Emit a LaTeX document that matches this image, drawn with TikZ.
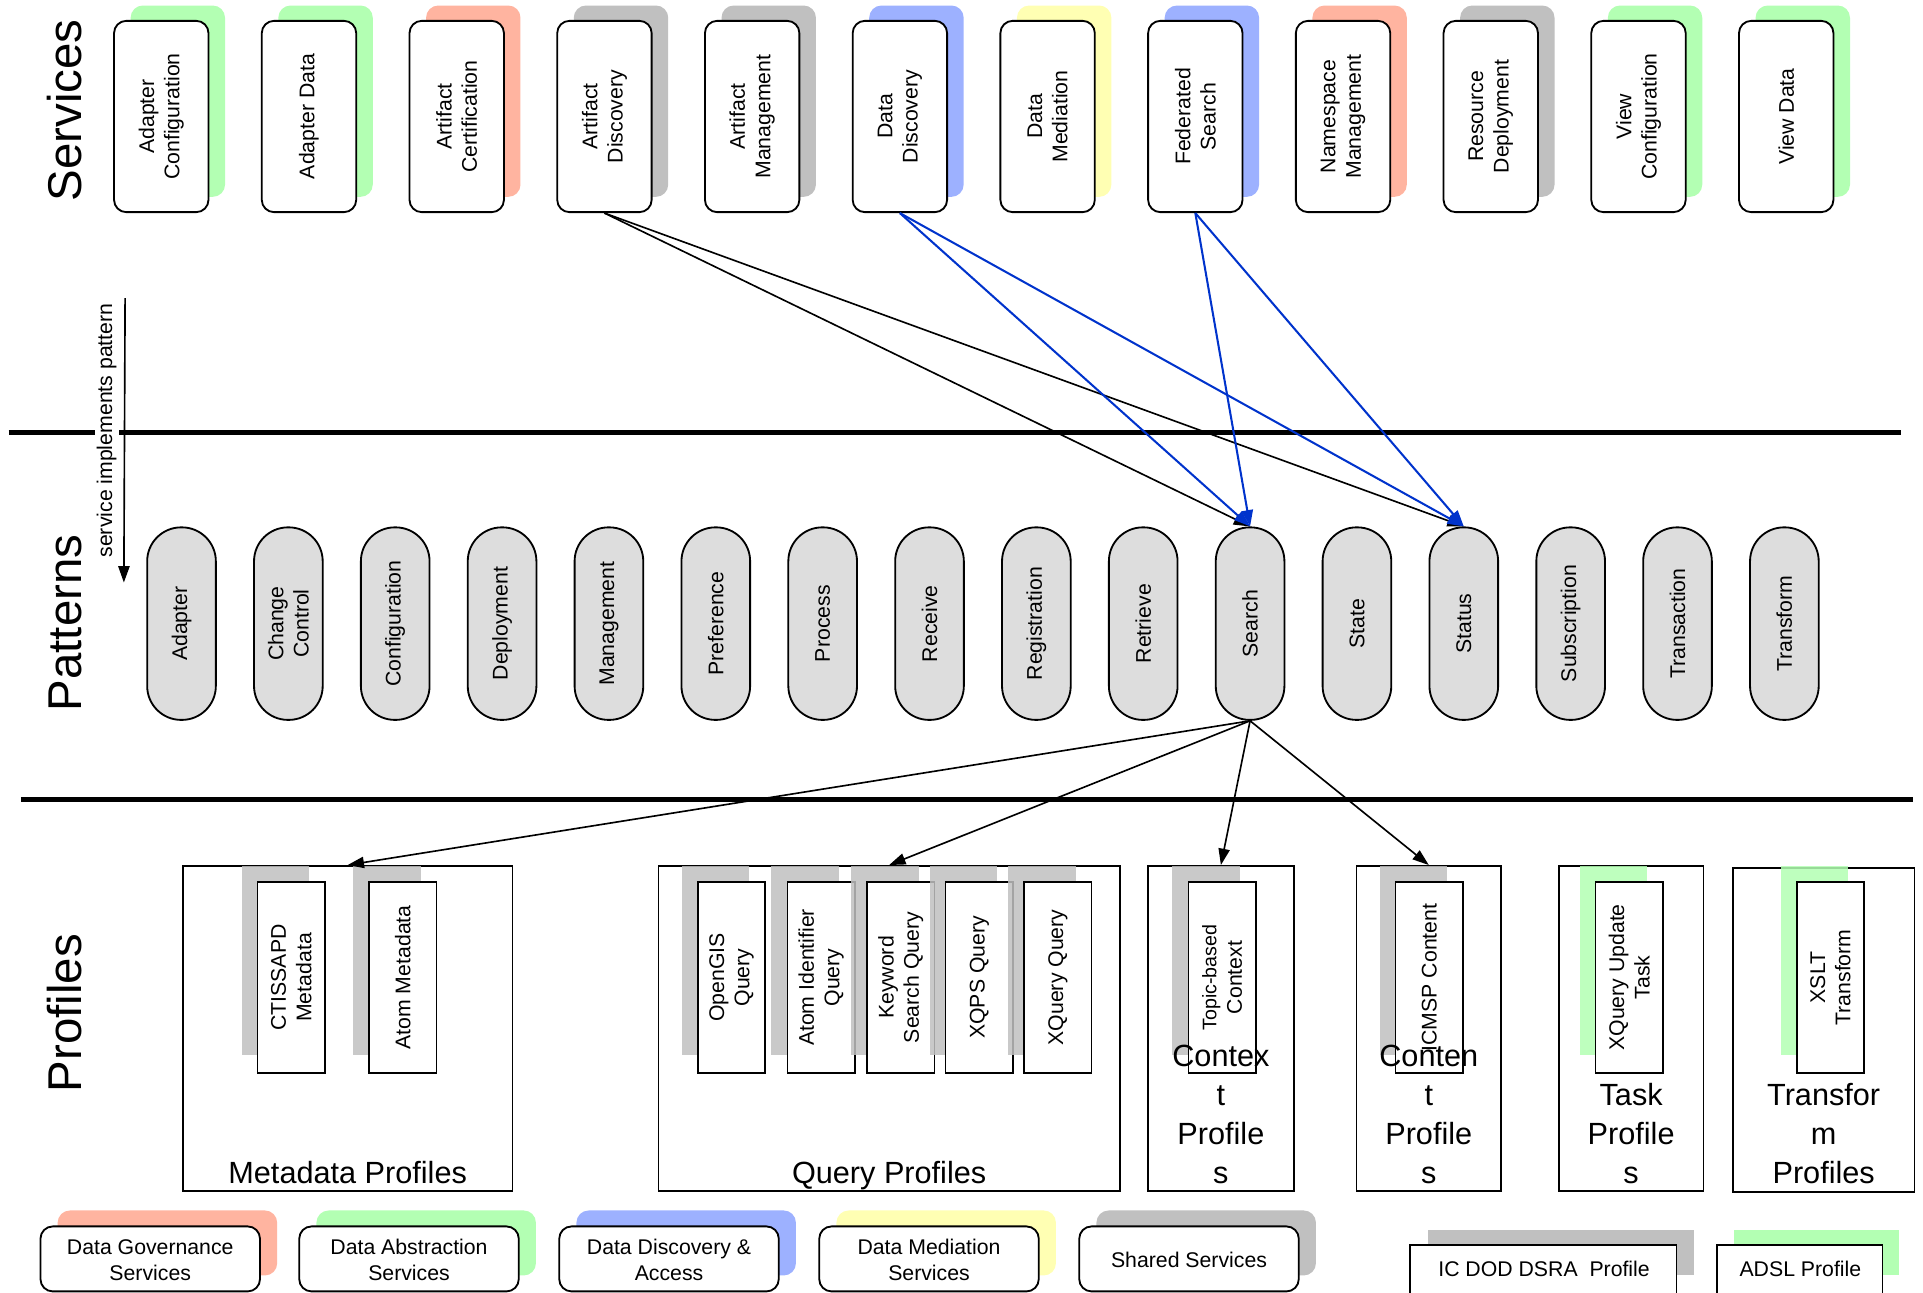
\documentclass[tikz,border=0pt]{standalone}
\usepackage{fontspec}
\setmainfont{Liberation Sans}
\usetikzlibrary{arrows.meta}
\definecolor{sgreen}{HTML}{B3FFB3}
\definecolor{ssalmon}{HTML}{FFB4A0}
\definecolor{sgray}{HTML}{C0C0C0}
\definecolor{sblue}{HTML}{9DB1FF}
\definecolor{syellow}{HTML}{FFFFB3}
\definecolor{pillgray}{HTML}{DDDDDD}
\definecolor{arrowblue}{HTML}{0033CC}
\begin{document}
\begin{tikzpicture}[x=0.6pt,y=-0.6pt,
  svc/.style={draw, line width=0.9pt, fill=white, rounded corners=6pt, minimum width=46.2pt, minimum height=93.6pt, inner sep=0pt},
  svcsh/.style={fill=#1, rounded corners=6pt, minimum width=46.2pt, minimum height=93.6pt, inner sep=0pt},
  txt/.style={font=\fontsize{10.4}{12.4}\selectfont, align=center, rotate=90, inner sep=0pt},
  pill/.style={draw, line width=0.9pt, fill=pillgray, rounded corners=16.6pt, minimum width=33.6pt, minimum height=94.2pt, inner sep=0pt},
  inbox/.style={draw, line width=0.8pt, fill=white, minimum width=33pt, minimum height=93.6pt, inner sep=0pt},
  insh/.style={fill=#1, fill opacity=0.85, minimum width=33pt, minimum height=92.4pt, inner sep=0pt},
  cont/.style={draw, line width=0.8pt, fill=white, inner sep=0pt},
  clbl/.style={font=\fontsize{15}{19}\selectfont, align=center, anchor=south, inner sep=0pt, text depth=0pt},
  big/.style={font=\fontsize{23.2}{28}\selectfont, rotate=90, inner sep=0pt},
  sep/.style={line width=2.4pt},
  blk/.style={draw, line width=0.8pt, -{Triangle[length=8pt,width=5.5pt]}},
  blu/.style={draw=arrowblue, line width=1pt, -{Triangle[length=8pt,width=5.5pt]}},
  legbox/.style={draw, line width=0.9pt, fill=white, rounded corners=6pt, minimum width=107.4pt, minimum height=31.8pt, inner sep=0pt},
  legsh/.style={fill=#1, rounded corners=6pt, minimum width=107.4pt, minimum height=31.8pt, inner sep=0pt},
  ltxt/.style={font=\fontsize{10.4}{12.6}\selectfont, align=center, inner sep=0pt}
]
\fill[white] (0,0) rectangle (1568,1054);
\useasboundingbox (0,0) rectangle (1568,1054);

% side labels
\node[big] (lserv) at (53,90) {Services};
\node[big] (lpat) at (53,508) {Patterns};
\node[big] (lprof) at (53,826) {Profiles};

% services
\foreach \i/\c/\lbl in {0/sgreen/{Adapter\\Configuration}, 1/sgreen/{Adapter Data}, 2/ssalmon/{Artifact\\Certification}, 3/sgray/{Artifact\\Discovery}, 4/sgray/{Artifact\\Management}, 5/sblue/{Data\\Discovery}, 6/syellow/{Data\\Mediation}, 7/sblue/{Federated\\Search}, 8/ssalmon/{Namespace\\Management}, 9/sgray/{Resource\\Deployment}, 10/sgreen/{View\\Configuration}, 11/sgreen/{View Data}}{
  \pgfmathsetmacro\cx{131.5+120.45*\i}
  \node[svcsh=\c] (sh\i) at (\cx+13.5,82.5) {};
  \node[svc] (s\i) at (\cx,95) {};
  \node[txt] (st\i) at (\cx,95) {\lbl};
}

% separators
\coordinate (l1a) at (7,353);
\coordinate (l1b) at (1550,353);
\coordinate (l2a) at (17,652);
\coordinate (l2b) at (1560,652);
\draw[sep] (l1a) -- (l1b);
\draw[sep] (l2a) -- (l2b);

% service implements pattern
\node[txt, fill=white, inner sep=1pt] (sip) at (87,351) {service implements pattern};
\coordinate (sipa) at (102,243);
\coordinate (sipb) at (101,475);
\draw[blk] (sipa) -- (sipb);

% patterns
\foreach \i/\lbl in {0/Adapter, 1/{Change\\Control}, 2/Configuration, 3/Deployment, 4/Management, 5/Preference, 6/Process, 7/Receive, 8/Registration, 9/Retrieve, 10/Search, 11/State, 12/Status, 13/Subscription, 14/Transaction, 15/Transform}{
  \pgfmathsetmacro\cx{148+87.13*\i}
  \node[pill] (p\i) at (\cx,508.5) {};
  \node[txt] (pt\i) at (\cx,508.5) {\lbl};
}

% service -> pattern
\draw[blk] (s3.south) -- (p10.north);
\draw[blk] (s3.south) -- (p12.north);
\draw[blu] (s5.south) -- (p10.north);
\draw[blu] (s5.south) -- (p12.north);
\draw[blu] (s7.south) -- (p10.north);
\draw[blu] (s7.south) -- (p12.north);

% profile containers
\node[cont, minimum width=161.4pt, minimum height=159pt] (mp) at (283.5,838.5) {};
\node[cont, minimum width=225.6pt, minimum height=159pt] (qp) at (725,838.5) {};
\node[cont, minimum width=71.4pt, minimum height=159pt] (cxp) at (995.5,838.5) {};
\node[cont, minimum width=70.8pt, minimum height=159pt] (cnp) at (1165,838.5) {};
\node[cont, minimum width=70.8pt, minimum height=159pt] (tkp) at (1330,838.5) {};
\node[cont, minimum width=88.8pt, minimum height=158.4pt] (tfp) at (1487,840) {};

% inner profile boxes
\foreach \i/\l/\c/\lbl in {0/210/sgray/{CTISSAPD\\Metadata}, 1/301/sgray/{Atom Metadata}, 2/569/sgray/{OpenGIS\\Query}, 3/642/sgray/{Atom Identifier\\Query}, 4/707/sgray/{Keyword\\Search Query}, 5/771/sgray/{XQPS Query}, 6/835/sgray/{XQuery Query}, 7/969/sgray/{\fontsize{9.6}{11}\selectfont Topic-based\\Context}, 8/1138/sgray/{ICMSP Content}, 9/1301/sgreen/{XQuery Update\\Task}, 10/1465/sgreen/{XSLT\\Transform}}{
  \pgfmathsetmacro\cx{\l+27.5}
  \node[insh=\c] (ish\i) at (\cx-13,783) {};
  \node[inbox] (ib\i) at (\cx,797) {};
  \node[txt] (ibt\i) at (\cx,797) {\lbl};
}

% container labels
\node[clbl] (mpl) at (283.5,965) {Metadata Profiles};
\node[clbl] (qpl) at (725,965) {Query Profiles};
\node[clbl] (cxpl) at (995.5,965) {Contex\\t\\Profile\\s};
\node[clbl] (cnpl) at (1165,965) {Conten\\t\\Profile\\s};
\node[clbl] (tkpl) at (1330,965) {Task\\Profile\\s};
\node[clbl] (tfpl) at (1487,965) {Transfor\\m\\Profiles};

% pattern -> profiles
\draw[blk] (p10.south) -- (mp.north);
\draw[blk] (p10.south) -- (qp.north);
\draw[blk] (p10.south) -- (cxp.north);
\draw[blk] (p10.south) -- (cnp.north);

% legend
\foreach \i/\cx/\c/\lbl in {0/122.5/ssalmon/{Data Governance\\Services}, 1/333.5/sgreen/{Data Abstraction\\Services}, 2/545.5/sblue/{Data Discovery \&\\Access}, 3/757.5/syellow/{Data Mediation\\Services}, 4/969.5/sgray/{Shared Services}}{
  \node[legsh=\c] (lgs\i) at (\cx+14,1013.5) {};
  \node[legbox] (lg\i) at (\cx,1026.5) {};
  \node[ltxt] (lgt\i) at (\cx,1027.5) {\lbl};
}
\node[fill=sgray, minimum width=130.2pt, minimum height=22.2pt, inner sep=0pt] (icsh) at (1272.5,1021.5) {};
\node[draw, line width=0.9pt, fill=white, minimum width=130.2pt, minimum height=27pt, inner sep=0pt] (ic) at (1258.5,1037.5) {};
\node[ltxt] (ict) at (1259,1035) {IC DOD DSRA\ \ Profile};
\node[fill=sgreen, minimum width=81pt, minimum height=22.2pt, inner sep=0pt] (adsh) at (1481,1021.5) {};
\node[draw, line width=0.9pt, fill=white, minimum width=81pt, minimum height=27pt, inner sep=0pt] (ad) at (1467.5,1037.5) {};
\node[ltxt] (adt) at (1468,1035) {ADSL Profile};
\end{tikzpicture}
\end{document}
